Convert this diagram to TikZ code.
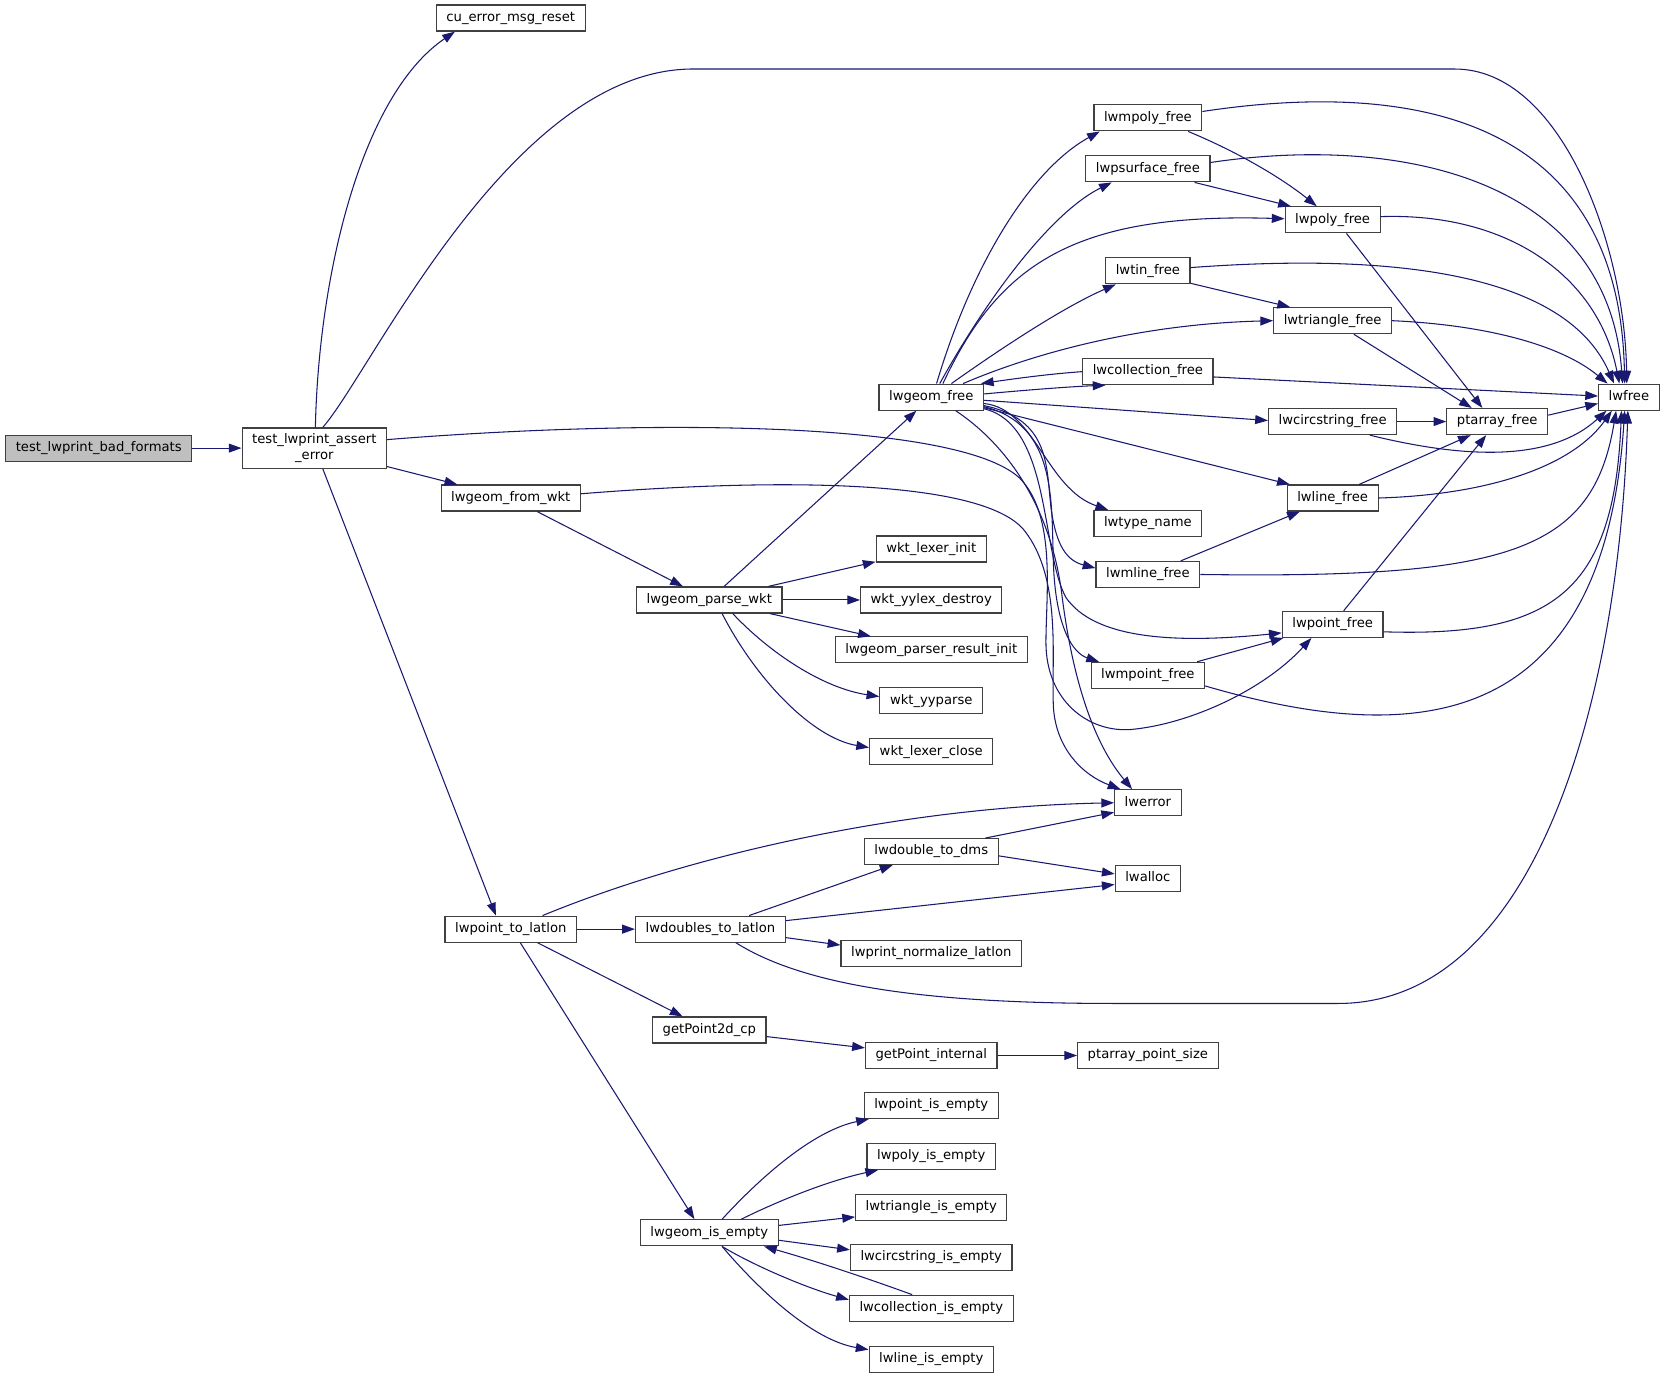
\documentclass[tikz,border=0pt]{standalone}
\usepackage{fontspec}
\setmainfont{DejaVu Sans}
\usetikzlibrary{arrows.meta,calc}
\definecolor{edgec}{HTML}{191970}
\definecolor{nodeb}{HTML}{404040}
\definecolor{rootf}{HTML}{BFBFBF}
\newcommand\nodefnt{\fontsize{12.4}{15}\selectfont}
\begin{document}
\begin{tikzpicture}[x=1pt,y=-1pt,
 fnbase/.style={draw=nodeb, line width=1.1pt, fill=white, rectangle, inner xsep=9.5pt, inner ysep=1pt, font=\nodefnt, text=black},
 fn/.style={fnbase, minimum height=24.5pt, text height=9.3pt, text depth=3pt},
 rootnode/.style={fn, fill=rootf},
 e/.style={draw=edgec, line width=1pt, -{Triangle[length=12pt,width=8.4pt]}},
]
\useasboundingbox (0,0) rectangle (1568,1300);
% nodes
\node[rootnode] (root) at (93,422) {test\_lwprint\_bad\_formats};
\node[fnbase, align=center, minimum height=38pt] (asrt) at (296,422) {test\_lwprint\_assert\\\_error};
\node[fn] (cu) at (481,17) {cu\_error\_msg\_reset};
\node[fn] (fwkt) at (481,469) {lwgeom\_from\_wkt};
\node[fn] (p2ll) at (481,875) {lwpoint\_to\_latlon};
\node[fn] (pwkt) at (668,565) {lwgeom\_parse\_wkt};
\node[fn] (d2ll) at (669,875) {lwdoubles\_to\_latlon};
\node[fn] (gp2d) at (668,970) {getPoint2d\_cp};
\node[fn] (gie) at (668,1161) {lwgeom\_is\_empty};
\node[fn] (gfree) at (877,374) {lwgeom\_free};
\node[fn] (wli) at (877,517) {wkt\_lexer\_init};
\node[fn] (wyd) at (877,565) {wkt\_yylex\_destroy};
\node[fn] (lpri) at (877,612) {lwgeom\_parser\_result\_init};
\node[fn] (wyp) at (877,660) {wkt\_yyparse};
\node[fn] (wlc) at (877,708) {wkt\_lexer\_close};
\node[fn] (ddms) at (877,802) {lwdouble\_to\_dms};
\node[fn] (pnl) at (877,898) {lwprint\_normalize\_latlon};
\node[fn] (gpi) at (877,994) {getPoint\_internal};
\node[fn] (pie) at (877,1041) {lwpoint\_is\_empty};
\node[fn] (polyie) at (877,1089) {lwpoly\_is\_empty};
\node[fn] (trie) at (877,1137) {lwtriangle\_is\_empty};
\node[fn] (cie) at (877,1184) {lwcircstring\_is\_empty};
\node[fn] (colie) at (877,1232) {lwcollection\_is\_empty};
\node[fn] (lie) at (877,1280) {lwline\_is\_empty};
\node[fn] (mpoly) at (1081,111) {lwmpoly\_free};
\node[fn] (psurf) at (1081,159) {lwpsurface\_free};
\node[fn] (tin) at (1081,255) {lwtin\_free};
\node[fn] (coll) at (1081,350) {lwcollection\_free};
\node[fn] (tname) at (1081,493) {lwtype\_name};
\node[fn] (mline) at (1081,541) {lwmline\_free};
\node[fn] (mpoint) at (1081,636) {lwmpoint\_free};
\node[fn] (err) at (1081,756) {lwerror};
\node[fn] (alloc) at (1081,827) {lwalloc};
\node[fn] (pps) at (1081,994) {ptarray\_point\_size};
\node[fn] (poly) at (1255,207) {lwpoly\_free};
\node[fn] (tri) at (1255,302) {lwtriangle\_free};
\node[fn] (circ) at (1255,397) {lwcircstring\_free};
\node[fn] (line) at (1255,469) {lwline\_free};
\node[fn] (point) at (1255,588) {lwpoint\_free};
\node[fn] (ptf) at (1410,397) {ptarray\_free};
\node[fn] (free) at (1534,374) {lwfree};
% edges from the root and test_lwprint_assert_error
\draw[e] (root) -- (asrt);
\draw[e] ($(asrt.north)+(1,0)$) .. controls (300,260) and (340,90) .. ($(cu.south west)+(18,0)$);
\draw[e] ($(asrt.north)+(8,0)$) .. controls (350,350) and (480,68) .. (650,65) -- (1370,65) .. controls (1470,65) and (1530,230) .. ($(free.north)+(-2,0)$);
\draw[e] (asrt) -- (fwkt);
\draw[e] ($(asrt.south)+(8,0)$) -- ($(p2ll.north)+(-14,0)$);
\draw[e] ($(asrt.east)+(0,-8)$) .. controls (600,395) and (900,395) .. (960,450) .. controls (995,485) and (985,560) .. (985,605) .. controls (985,660) and (1025,690) .. (1065,687) .. controls (1120,682) and (1190,650) .. ($(point.south)+(-20,0)$);
% lwgeom_from_wkt
\draw[e] (fwkt) -- (pwkt);
\draw[e] ($(fwkt.east)+(0,-4)$) .. controls (760,448) and (930,455) .. (965,500) .. controls (1000,545) and (990,620) .. (992,665) .. controls (994,705) and (1020,730) .. ($(err.north west)+(6,0)$);
% lwgeom_parse_wkt
\draw[e] (pwkt) -- (gfree);
\draw[e] (pwkt) -- (wli);
\draw[e] (pwkt) -- (wyd);
\draw[e] (pwkt) -- (lpri);
\draw[e] ($(pwkt.south)+(22,0)$) .. controls (725,615) and (775,648) .. ($(wyp.west)+(0,-4)$);
\draw[e] ($(pwkt.south)+(12,0)$) .. controls (712,640) and (765,695) .. ($(wlc.west)+(0,-4)$);
% lwgeom_free fan
\draw[e] ($(gfree.north)+(5,0)$) .. controls (915,250) and (970,160) .. ($(mpoly.south west)+(6,0)$);
\draw[e] ($(gfree.north)+(8,0)$) .. controls (930,280) and (990,200) .. ($(psurf.south west)+(25,0)$);
\draw[e] ($(gfree.north)+(11,0)$) .. controls (940,250) and (1010,200) .. ($(poly.west)+(0,-1)$);
\draw[e] ($(gfree.north)+(19,0)$) .. controls (940,330) and (1000,290) .. ($(tin.south west)+(10,0)$);
\draw[e] ($(gfree.north)+(30,0)$) .. controls (980,330) and (1080,305) .. (tri.west);
\draw[e] (coll.west) .. controls (990,352) and (960,356) .. ($(gfree.north east)+(-3,0)$);
\draw[e] ($(gfree.east)+(0,-3)$) .. controls (970,367) and (1010,364) .. ($(coll.south west)+(22,0)$);
\draw[e] ($(gfree.east)+(0,3)$) -- ($(circ.west)+(0,-1)$);
\draw[e] ($(gfree.east)+(0,10)$) -- ($(line.north west)+(3,0)$);
\draw[e] ($(gfree.east)+(0,6)$) .. controls (975,385) and (985,460) .. ($(tname.north west)+(14,0)$);
\draw[e] ($(gfree.east)+(0,8)$) .. controls (990,395) and (985,440) .. (990,480) .. controls (995,515) and (1005,528) .. ($(mline.west)+(0,-6)$);
\draw[e] ($(gfree.east)+(0,9)$) .. controls (995,400) and (990,470) .. (992,530) .. controls (994,590) and (1010,615) .. ($(mpoint.north west)+(8,0)$);
\draw[e] ($(gfree.east)+(0,11)$) .. controls (990,400) and (980,520) .. (1004,563) .. controls (1030,600) and (1100,607) .. ($(point.west)+(0,8)$);
\draw[e] ($(gfree.south)+(23,0)$) .. controls (950,420) and (990,480) .. (1000,560) .. controls (1010,640) and (1030,700) .. ($(err.north west)+(17,0)$);
% right part
\draw[e] ($(mpoly.east)+(0,-6)$) .. controls (1330,75) and (1525,110) .. ($(free.north)+(-4,0)$);
\draw[e] ($(mpoly.south)+(38,0)$) .. controls (1170,145) and (1210,170) .. ($(poly.north)+(-15,0)$);
\draw[e] ($(psurf.east)+(0,-6)$) .. controls (1330,125) and (1515,175) .. ($(free.north)+(-6,0)$);
\draw[e] ($(psurf.south)+(44,0)$) -- ($(poly.north west)+(6,0)$);
\draw[e] ($(poly.east)+(0,-3)$) .. controls (1420,200) and (1505,260) .. ($(free.north)+(-9,0)$);
\draw[e] ($(poly.south)+(13,0)$) -- ($(ptf.north)+(-14,0)$);
\draw[e] ($(tin.east)+(0,-3)$) .. controls (1350,235) and (1480,270) .. ($(free.north)+(-14,0)$);
\draw[e] ($(tin.south east)+(0,-1)$) -- ($(tri.north west)+(16,0)$);
\draw[e] (tri.east) .. controls (1400,306) and (1470,325) .. ($(free.north west)+(9,0)$);
\draw[e] ($(tri.south)+(20,0)$) -- ($(ptf.north)+(-24,0)$);
\draw[e] ($(coll.east)+(0,5)$) -- ($(free.west)+(0,-1)$);
\draw[e] (circ) -- (ptf);
\draw[e] ($(circ.south)+(35,0)$) .. controls (1380,432) and (1460,435) .. ($(free.south west)+(8,0)$);
\draw[e] ($(ptf.east)+(0,-6)$) -- ($(free.west)+(0,6)$);
\draw[e] ($(line.north)+(25,0)$) -- ($(ptf.south)+(-25,0)$);
\draw[e] (line.east) .. controls (1400,466) and (1480,440) .. ($(free.south west)+(13,0)$);
\draw[e] (mline) -- (line);
\draw[e] (mline.east) .. controls (1420,545) and (1500,520) .. ($(free.south west)+(17,0)$);
\draw[e] (point) -- (ptf);
\draw[e] ($(point.east)+(0,7)$) .. controls (1460,600) and (1520,560) .. ($(free.south)+(-7,0)$);
\draw[e] (mpoint) -- (point);
\draw[e] ($(mpoint.east)+(0,10)$) .. controls (1320,700) and (1510,700) .. ($(free.south)+(-4,0)$);
\draw[e] ($(d2ll.south)+(24,0)$) .. controls (760,930) and (880,945) .. (1050,945) -- (1260,945) .. controls (1450,945) and (1525,650) .. ($(free.south)+(-1,0)$);
% lower part
\draw[e] ($(p2ll.north)+(30,0)$) .. controls (650,805) and (850,760) .. (err.west);
\draw[e] (p2ll) -- (d2ll);
\draw[e] (p2ll) -- (gp2d);
\draw[e] ($(p2ll.south)+(9,0)$) -- ($(gie.north)+(-14,0)$);
\draw[e] (d2ll) -- (ddms);
\draw[e] ($(d2ll.east)+(0,-8)$) -- ($(alloc.west)+(0,6)$);
\draw[e] ($(d2ll.east)+(0,8)$) -- ($(pnl.west)+(0,-8)$);
\draw[e] ($(ddms.north)+(51,0)$) -- ($(err.west)+(0,9)$);
\draw[e] ($(ddms.east)+(0,4)$) -- ($(alloc.west)+(0,-4)$);
\draw[e] (gp2d) -- (gpi);
\draw[e] (gpi) -- (pps);
\draw[e] ($(gie.north)+(12,0)$) .. controls (715,1110) and (765,1065) .. ($(pie.south west)+(5,0)$);
\draw[e] ($(gie.north)+(30,0)$) .. controls (735,1130) and (780,1112) .. ($(polyie.south west)+(11,0)$);
\draw[e] ($(gie.east)+(0,-7)$) -- ($(trie.west)+(0,9)$);
\draw[e] ($(gie.east)+(0,7)$) -- ($(cie.west)+(0,-7)$);
\draw[e] ($(colie.north)+(-18,0)$) .. controls (820,1205) and (770,1188) .. ($(gie.south east)+(-14,0)$);
\draw[e] ($(gie.south)+(12,0)$) .. controls (710,1192) and (760,1213) .. ($(colie.west)+(0,-8)$);
\draw[e] ($(gie.south)+(12,0)$) .. controls (715,1215) and (765,1262) .. ($(lie.west)+(0,-9)$);
\end{tikzpicture}
\end{document}
